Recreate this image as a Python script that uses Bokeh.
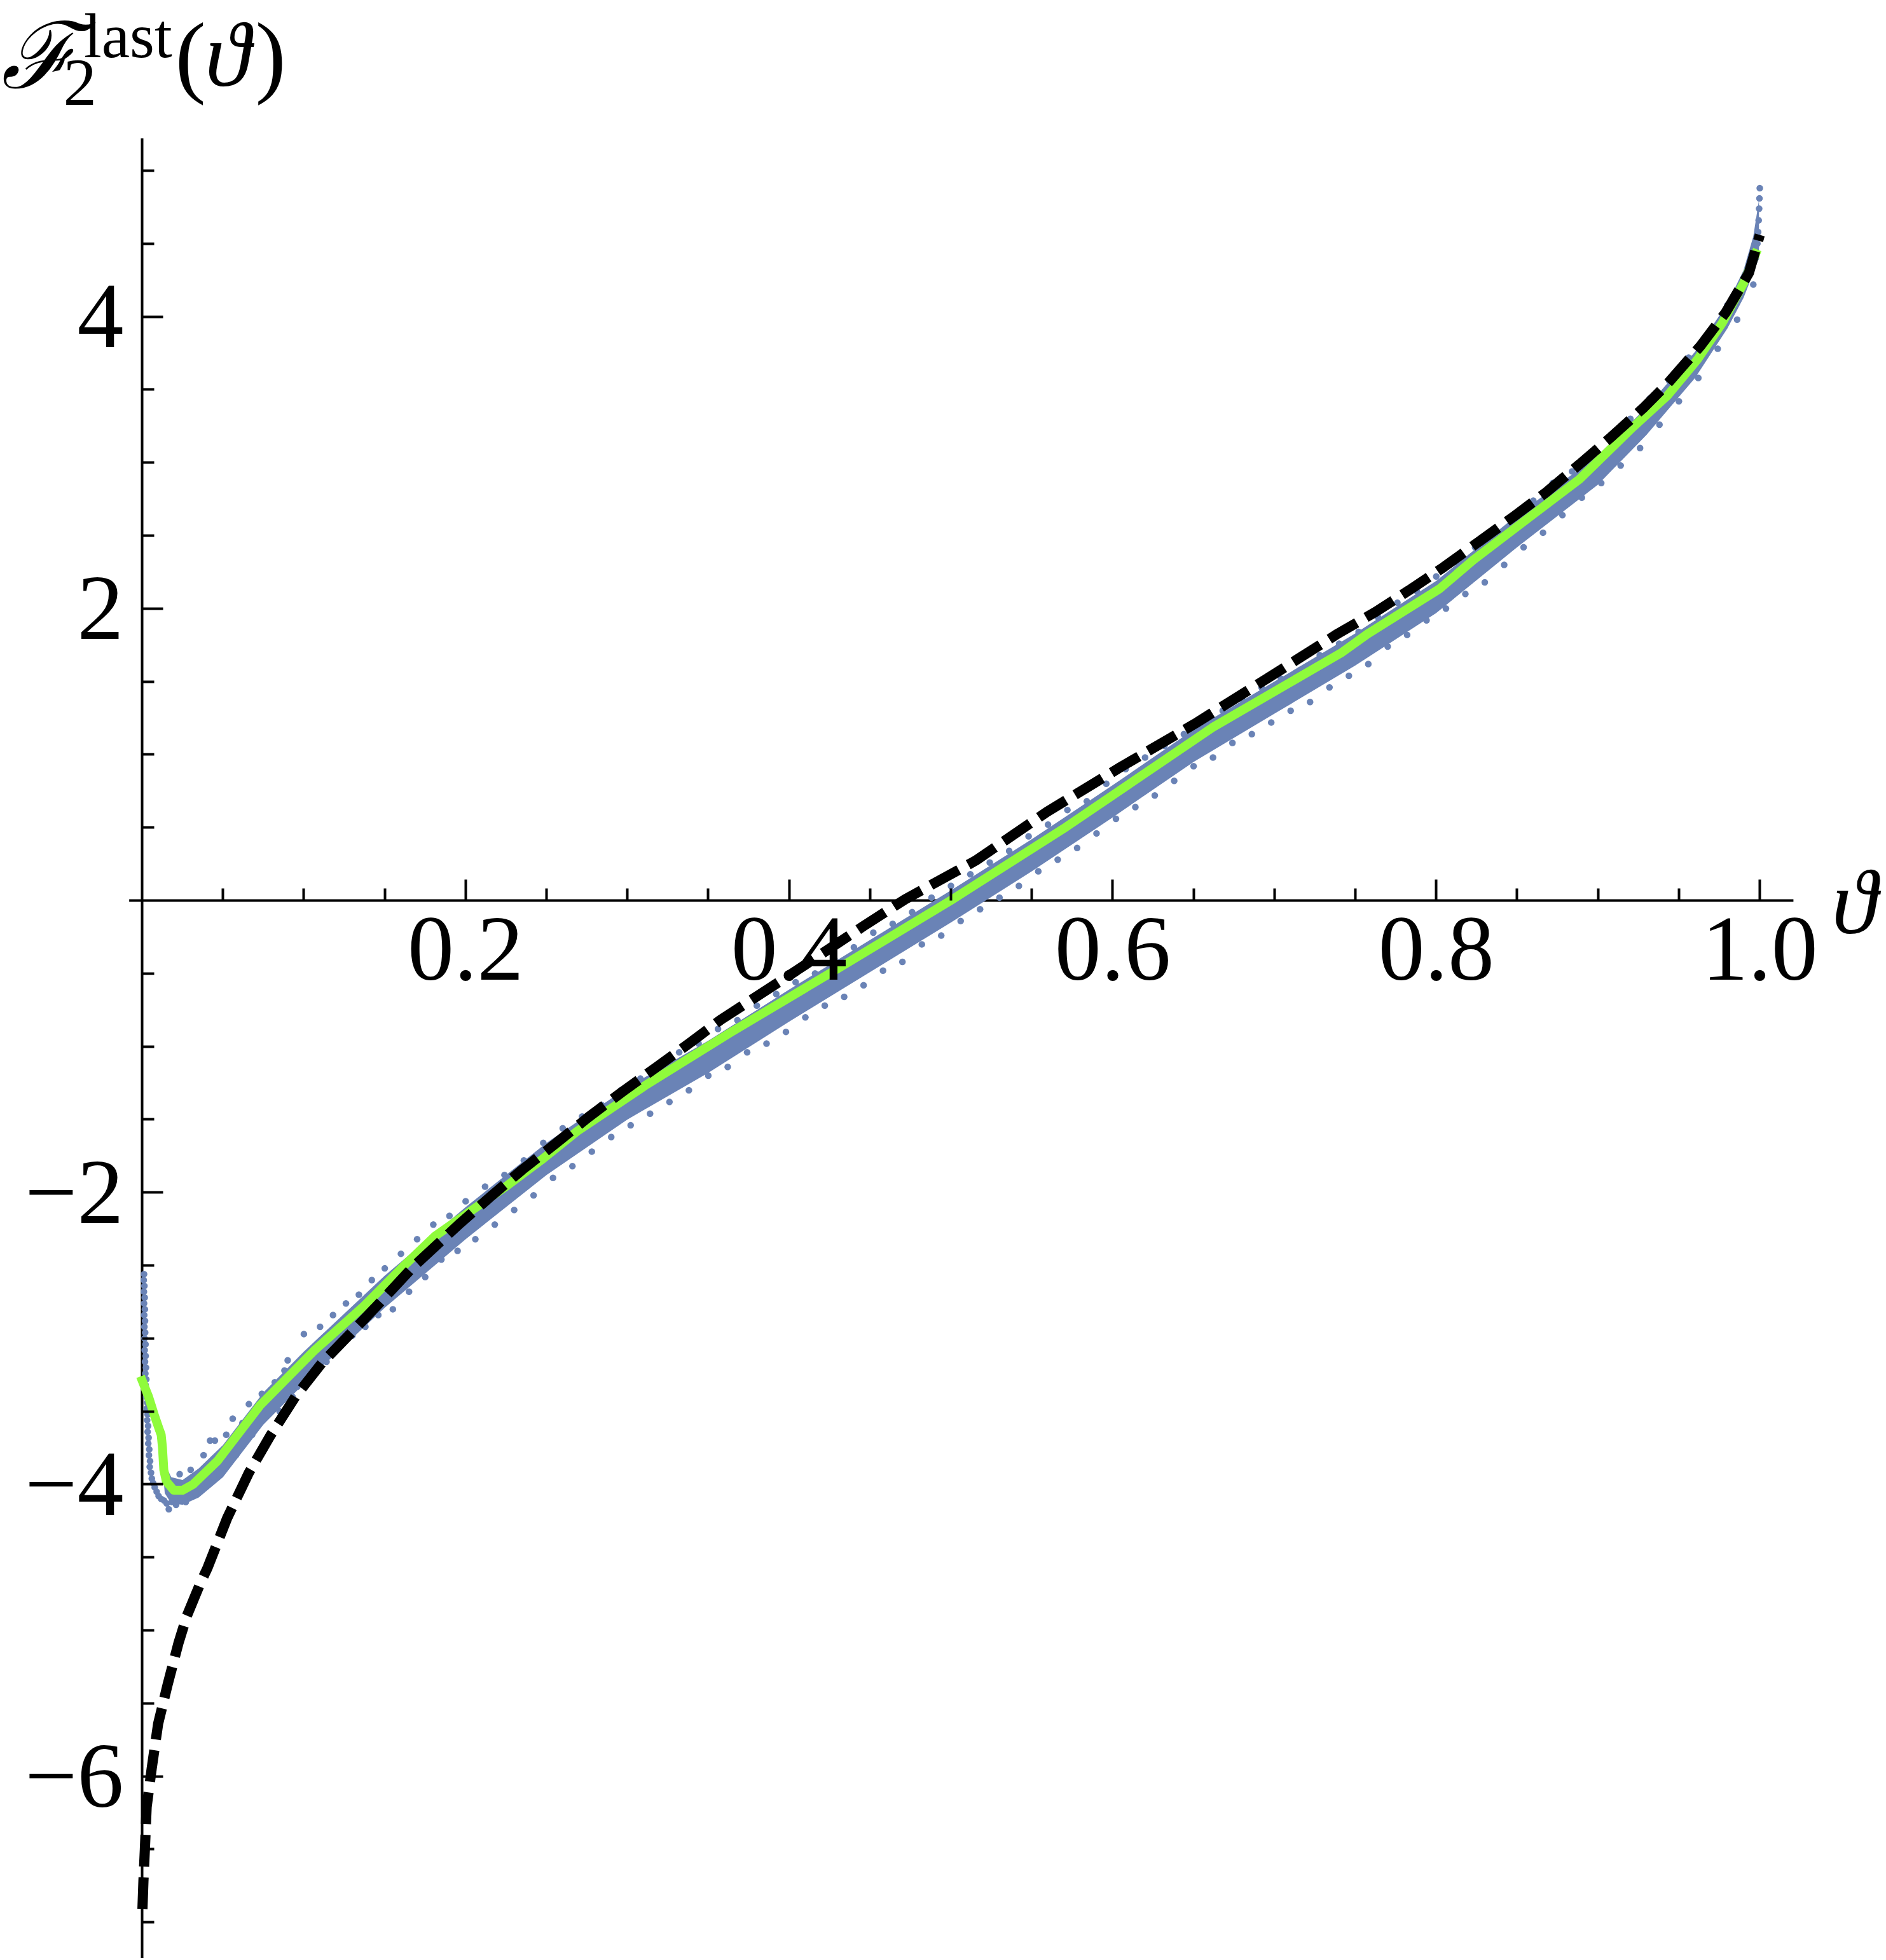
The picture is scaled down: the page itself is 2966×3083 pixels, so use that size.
from bokeh.plotting import figure
from bokeh.models import Range1d, FixedTicker, CustomJSTickFormatter, PrintfTickFormatter, Label
from bokeh.embed import file_html
from bokeh.resources import INLINE

# ---------------- data ----------------
# dashed black curve (asymptotic prediction)
theta_dash = [0.0002, 0.0008, 0.0017, 0.0028, 0.0060, 0.0099, 0.0158, 0.0224, 0.0277, 0.0355,
              0.0405, 0.0526, 0.0660, 0.0796, 0.0947, 0.1110, 0.1285, 0.1440, 0.1675, 0.1967,
              0.2163, 0.2347, 0.2556, 0.2759, 0.2969, 0.3179, 0.3395, 0.3578, 0.4045, 0.4476,
              0.4716, 0.5152, 0.5593, 0.6050, 0.6506, 0.6953, 0.7394, 0.7627, 0.7830, 0.8046,
              0.8263, 0.8472, 0.8682, 0.8885, 0.9082, 0.9278, 0.9422, 0.9634, 0.9790, 0.9933,
              1.0000]
F_dash = [-6.91, -6.72, -6.50, -6.21, -5.94, -5.64, -5.37, -5.09, -4.90, -4.69,
          -4.57, -4.23, -3.92, -3.66, -3.40, -3.17, -2.97, -2.79, -2.51, -2.21,
          -2.02, -1.847, -1.665, -1.484, -1.31, -1.142, -0.968, -0.816, -0.48, -0.163,
          0.008, 0.273, 0.607, 0.915, 1.21, 1.52, 1.83, 1.979, 2.124, 2.284,
          2.458, 2.625, 2.799, 2.988, 3.176, 3.372, 3.532, 3.80, 4.03, 4.30,
          4.56]

# green smooth curve
theta_fit = [-0.001, 0.004, 0.0074, 0.0105, 0.0118, 0.0126, 0.0134, 0.015, 0.0195, 0.025,
             0.0315, 0.039, 0.0465, 0.0728, 0.1067, 0.137, 0.163, 0.181, 0.226, 0.2465,
             0.269, 0.312, 0.3644, 0.4265, 0.4998, 0.5713, 0.6616, 0.7417, 0.7575, 0.802,
             0.823, 0.8557, 0.8885, 0.9213, 0.943, 0.9617, 0.977, 0.990, 0.9985]
F_fit = [-3.26, -3.40, -3.52, -3.62, -3.66, -3.75, -3.90, -3.98, -4.04, -4.04,
         -4.00, -3.92, -3.84, -3.46, -3.08, -2.78, -2.49, -2.30, -1.95, -1.78,
         -1.58, -1.26, -0.90, -0.49, 0.0, 0.505, 1.185, 1.70, 1.826, 2.135,
         2.334, 2.61, 2.886, 3.24, 3.46, 3.71, 3.96, 4.23, 4.46]

# dense core of the simulated points (lower / upper edge)
band_theta = [0.012, 0.014, 0.018, 0.025, 0.035, 0.05, 0.075, 0.1, 0.15, 0.2,
              0.25, 0.3, 0.35, 0.4, 0.45, 0.5, 0.55, 0.6, 0.65, 0.7,
              0.75, 0.8, 0.85, 0.9, 0.93, 0.96, 0.98, 0.99, 0.996, 0.9995]
band_hi = [-3.60, -3.86, -3.95, -3.97, -3.89, -3.73, -3.37, -3.09, -2.57, -2.10,
           -1.66, -1.28, -0.96, -0.61, -0.27, 0.07, 0.42, 0.79, 1.17, 1.50,
           1.83, 2.19, 2.64, 3.05, 3.38, 3.76, 4.09, 4.32, 4.55, 4.80]
band_lo = [-3.80, -4.06, -4.13, -4.14, -4.09, -3.95, -3.59, -3.31, -2.79, -2.32,
           -1.88, -1.50, -1.18, -0.83, -0.49, -0.15, 0.20, 0.57, 0.95, 1.28,
           1.61, 1.97, 2.42, 2.85, 3.19, 3.58, 3.92, 4.13, 4.30, 4.40]

# individual simulated points near theta = 0
dots_low = [(0.0012, -2.56), (0.0010, -2.60), (0.0014, -2.64), (0.0011, -2.68), (0.0016, -2.72),
            (0.0012, -2.76), (0.0017, -2.80), (0.0013, -2.84), (0.0018, -2.88), (0.0014, -2.92),
            (0.0019, -2.96), (0.0015, -3.00), (0.0021, -3.04), (0.0016, -3.08), (0.0022, -3.12),
            (0.0018, -3.16), (0.0024, -3.20), (0.0020, -3.24), (0.0026, -3.28), (0.0022, -3.32),
            (0.0028, -3.36), (0.0025, -3.40), (0.0031, -3.44), (0.0028, -3.48), (0.0034, -3.52),
            (0.0031, -3.56), (0.0037, -3.60), (0.0034, -3.64), (0.0040, -3.68), (0.0038, -3.72),
            (0.0044, -3.76), (0.0042, -3.80), (0.0049, -3.84), (0.0047, -3.88), (0.0055, -3.92),
            (0.0060, -3.96), (0.0068, -3.99), (0.0078, -4.02), (0.0090, -4.05), (0.0102, -4.08),
            (0.0118, -4.10), (0.0135, -4.11), (0.0152, -4.13), (0.0165, -4.17), (0.0185, -4.12),
            (0.0210, -4.14), (0.0240, -4.11), (0.0270, -4.12), (0.0300, -4.08), (0.0330, -4.06),
            (0.0360, -4.03), (0.0400, -3.99), (0.0440, -3.95), (0.0232, -3.93), (0.0300, -3.90),
            (0.0420, -3.70), (0.0380, -3.80)]

# individual simulated points along the band
dots_mid = [(0.045, -3.70), (0.048, -3.92), (0.052, -3.66), (0.056, -3.55), (0.058, -3.80),
            (0.062, -3.58), (0.066, -3.45), (0.068, -3.66), (0.071, -3.60), (0.074, -3.38),
            (0.078, -3.52), (0.082, -3.30), (0.085, -3.50), (0.088, -3.22), (0.090, -3.15),
            (0.093, -3.40), (0.096, -3.33), (0.100, -2.97), (0.103, -3.22), (0.106, -3.18),
            (0.110, -2.92), (0.114, -3.16), (0.118, -2.84), (0.122, -3.06), (0.126, -2.76),
            (0.130, -2.98), (0.134, -2.70), (0.138, -2.92), (0.142, -2.60), (0.146, -2.84),
            (0.150, -2.52), (0.155, -2.80), (0.160, -2.42), (0.165, -2.68), (0.170, -2.32),
            (0.175, -2.58), (0.180, -2.22), (0.185, -2.46), (0.190, -2.16), (0.195, -2.40),
            (0.200, -2.06), (0.206, -2.32), (0.212, -1.96), (0.218, -2.22), (0.224, -1.88),
            (0.230, -2.12), (0.236, -1.78), (0.242, -2.02), (0.248, -1.66), (0.254, -1.90),
            (0.260, -1.56), (0.266, -1.82), (0.272, -1.48), (0.278, -1.72), (0.284, -1.40),
            (0.290, -1.62), (0.296, -1.30), (0.302, -1.54), (0.308, -1.22), (0.314, -1.46),
            (0.320, -1.12), (0.326, -1.38), (0.332, -1.04), (0.338, -1.30), (0.344, -0.98),
            (0.350, -1.20), (0.356, -0.88), (0.362, -1.14), (0.368, -0.82), (0.374, -1.04),
            (0.380, -0.72), (0.386, -0.98), (0.392, -0.64), (0.398, -0.90), (0.404, -0.56),
            (0.410, -0.80), (0.416, -0.50), (0.422, -0.72), (0.428, -0.40), (0.434, -0.66),
            (0.440, -0.32), (0.446, -0.58), (0.452, -0.22), (0.458, -0.48), (0.464, -0.16),
            (0.470, -0.42), (0.476, -0.08), (0.482, -0.30), (0.488, 0.02), (0.494, -0.24),
            (0.500, 0.10), (0.506, -0.14), (0.512, 0.18), (0.518, -0.06), (0.524, 0.26),
            (0.530, 0.02), (0.536, 0.34), (0.542, 0.10), (0.548, 0.44), (0.554, 0.20),
            (0.560, 0.52), (0.566, 0.28), (0.572, 0.62), (0.578, 0.36), (0.584, 0.68),
            (0.590, 0.46), (0.596, 0.80), (0.602, 0.56), (0.608, 0.90), (0.614, 0.64),
            (0.620, 0.98), (0.626, 0.72), (0.632, 1.06), (0.638, 0.82), (0.644, 1.14),
            (0.650, 0.92), (0.656, 1.24), (0.662, 0.98), (0.668, 1.30), (0.674, 1.08),
            (0.680, 1.38), (0.686, 1.14), (0.692, 1.46), (0.698, 1.22), (0.704, 1.52),
            (0.710, 1.30), (0.716, 1.58), (0.722, 1.36), (0.728, 1.68), (0.734, 1.46),
            (0.740, 1.76), (0.746, 1.54), (0.752, 1.84), (0.758, 1.62), (0.764, 1.94),
            (0.770, 1.74), (0.776, 2.04), (0.782, 1.82), (0.788, 2.12), (0.794, 1.92),
            (0.800, 2.22), (0.806, 2.00), (0.812, 2.32), (0.818, 2.10), (0.824, 2.42),
            (0.830, 2.18), (0.836, 2.50), (0.842, 2.30), (0.848, 2.60), (0.854, 2.42),
            (0.860, 2.74), (0.866, 2.52), (0.872, 2.86), (0.878, 2.64), (0.884, 2.94),
            (0.890, 2.76), (0.896, 3.06), (0.902, 2.86), (0.908, 3.16), (0.914, 2.98),
            (0.920, 3.30), (0.926, 3.10), (0.932, 3.44), (0.938, 3.26), (0.944, 3.56),
            (0.950, 3.42), (0.956, 3.72), (0.962, 3.58), (0.968, 3.88), (0.974, 3.78),
            (0.980, 4.08), (0.986, 3.98), (0.992, 4.30), (0.996, 4.22)]

# individual simulated points near theta = 1
dots_high = [(0.9975, 4.40), (0.9985, 4.50), (0.9990, 4.58), (0.9993, 4.66),
             (0.9996, 4.74), (0.9998, 4.81), (1.0000, 4.88)]

# ticks and axis extents
x_major = [0.2, 0.4, 0.6, 0.8, 1.0]
x_minor = [0.05, 0.1, 0.15, 0.25, 0.3, 0.35, 0.45, 0.5, 0.55, 0.65, 0.7, 0.75, 0.85, 0.9, 0.95]
y_major = [-6, -4, -2, 2, 4]
y_minor = [-7, -6.5, -5.5, -5, -4.5, -3.5, -3, -2.5, -1.5, -1, -0.5, 0.5, 1, 1.5, 2.5, 3, 3.5, 4.5, 5]
x_axis_extent = (-0.008, 1.0208)
y_axis_extent = (-7.26, 5.222)

# ---------------- styling ----------------
DOT = "#6a83b6"
GREEN = "#8ffb3b"
SERIF = "Liberation Serif, DejaVu Serif, serif"

W, H = 2960, 3080
X0, SX = 223.0, 2544.0      # pixel of theta=0, pixels per unit
Y0, SY = 1416.0, 229.6      # pixel of F=0, pixels per unit

p = figure(width=W, height=H,
           x_range=Range1d(-X0 / SX, (W - X0) / SX),
           y_range=Range1d((Y0 - H) / SY, Y0 / SY),
           output_backend="svg", toolbar_location=None, title=None,
           min_border_left=0, min_border_right=0, min_border_top=0, min_border_bottom=0)
p.grid.visible = False
p.outline_line_color = None
p.background_fill_color = "white"
p.border_fill_color = "white"

for ax in (p.xaxis[0], p.yaxis[0]):
    ax.fixed_location = 0
    ax.axis_line_color = None
    ax.major_tick_line_width = 4
    ax.minor_tick_line_width = 4
    ax.major_tick_line_color = "black"
    ax.minor_tick_line_color = "black"
    ax.major_tick_in = 33
    ax.major_tick_out = 0
    ax.minor_tick_in = 19
    ax.minor_tick_out = 0
    ax.major_label_text_font = "Liberation Serif"
    ax.major_label_text_font_size = "146px"
    ax.major_label_text_color = "black"

p.xaxis.ticker = FixedTicker(ticks=x_major, minor_ticks=x_minor)
p.xaxis.formatter = PrintfTickFormatter(format="%.1f")
p.xaxis.major_label_standoff = 28
p.yaxis.ticker = FixedTicker(ticks=y_major, minor_ticks=y_minor)
p.yaxis.formatter = CustomJSTickFormatter(
    code="return (tick < 0 ? '\\u2212' : '') + Math.abs(tick).toFixed(0);")
p.yaxis.major_label_standoff = 29

# axis lines (limited extents, as in the original)
p.segment(x0=[x_axis_extent[0], 0], y0=[0, y_axis_extent[0]],
          x1=[x_axis_extent[1], 0], y1=[0, y_axis_extent[1]],
          line_color="black", line_width=4)

# simulated points
p.varea(x=band_theta, y1=band_lo, y2=band_hi, fill_color=DOT)
for pts in (dots_low, dots_mid, dots_high):
    xs, ys = zip(*pts)
    p.scatter(list(xs), list(ys), size=10.5, fill_color=DOT, line_color=None)

# smooth fit
p.line(theta_fit, F_fit, line_width=14, line_color=GREEN, line_join="round")
# dashed prediction
p.line(theta_dash, F_dash, line_width=16, line_color="black", line_dash="50 17")

# axis titles (vertical position given as the middle of the text line)
def lab(x, y, text, size, font=SERIF, style="normal"):
    p.add_layout(Label(x=x, y=y, text=text, text_font=font, text_font_size=size,
                       text_font_style=style, text_color="black",
                       text_align="left", text_baseline="middle"))

lab(-0.0870, 5.788, "\u2131", "145px", font="DejaVu Serif, serif", style="italic")
lab(-0.04874, 5.603, "2", "105px")
lab(-0.03600, 5.922, "last", "100px")
lab(0.02044, 5.797, "(", "145px")
lab(0.03892, 5.797, "\u03d1", "145px", style="italic")
lab(0.06997, 5.797, ")", "145px")
lab(1.0445, -0.013, "\u03d1", "145px", style="italic")

open("out.html", "w").write(file_html(p, INLINE))
